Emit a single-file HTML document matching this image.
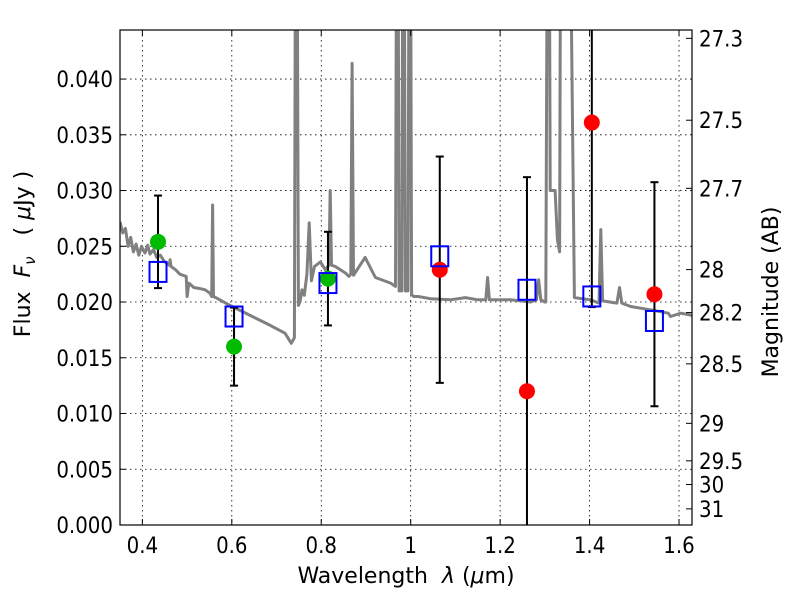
<!DOCTYPE html>
<html><head><meta charset="utf-8"><style>
html,body{margin:0;padding:0;background:#fff;}
svg{display:block;font-family:"DejaVu Sans","Liberation Sans",sans-serif;}
.tk{font-stretch:condensed;}
</style></head><body>
<svg id="chart" width="800" height="600" viewBox="0 0 800 600">
<defs><clipPath id="clip"><rect x="120" y="30" width="572" height="495"/></clipPath></defs>
<rect x="0" y="0" width="800" height="600" fill="#fff"/>
<g id="grid"></g>
<g id="plot" clip-path="url(#clip)"></g>
<rect x="120" y="30" width="572" height="495" fill="none" stroke="#000" stroke-width="1.2"/>
<g id="axes"></g>
<text x="406" y="583" font-size="22" text-anchor="middle" xml:space="preserve">Wavelength  <tspan font-style="italic">λ</tspan> (<tspan font-style="italic">μ</tspan>m)</text>
<text transform="translate(30,254) rotate(-90)" font-size="22" text-anchor="middle" xml:space="preserve">Flux  <tspan font-style="italic">F</tspan><tspan font-style="italic" font-size="15" dy="5">ν</tspan><tspan dy="-5">   ( </tspan><tspan font-style="italic">μ</tspan>Jy )</text>
<text transform="translate(778,292) rotate(-90)" font-size="22" text-anchor="middle">Magnitude (AB)</text>
</svg>
<script>
const xTicks=[0.4,0.6,0.8,1.0,1.2,1.4,1.6];
const xTickLabels=["0.4","0.6","0.8","1","1.2","1.4","1.6"];
const yTicks=[0,0.005,0.01,0.015,0.02,0.025,0.03,0.035,0.04];
const yTickLabels=["0.000","0.005","0.010","0.015","0.020","0.025","0.030","0.035","0.040"];
const magTicks=[27.3,27.5,27.7,28,28.2,28.5,29,29.5,30,31];
const magTickLabels=["27.3","27.5","27.7","28","28.2","28.5","29","29.5","30","31"];
const specWave=[0.35,0.356,0.362,0.368,0.374,0.380,0.386,0.392,0.398,0.406,0.412,0.417,0.425,0.432,0.440,0.450,0.460,0.462,0.464,0.474,0.484,0.498,0.500,0.504,0.515,0.529,0.540,0.551,0.555,0.557,0.559,0.564,0.596,0.641,0.686,0.719,0.733,0.740,0.744,0.749,0.753,0.757,0.762,0.768,0.773,0.778,0.785,0.798,0.809,0.817,0.820,0.823,0.831,0.854,0.862,0.866,0.869,0.872,0.898,0.921,0.955,0.966,0.970,0.974,0.980,0.984,0.988,0.994,0.998,1.002,1.006,1.017,1.044,1.089,1.122,1.150,1.168,1.172,1.176,1.223,1.268,1.281,1.286,1.291,1.300,1.302,1.308,1.312,1.323,1.328,1.333,1.337,1.350,1.366,1.402,1.421,1.425,1.429,1.461,1.467,1.472,1.492,1.536,1.576,1.581,1.604,1.63];
const specFlux=[0.0272,0.0262,0.0266,0.0250,0.0258,0.0245,0.0252,0.0242,0.0250,0.0244,0.0251,0.0243,0.0247,0.0240,0.0242,0.0236,0.0233,0.0238,0.0232,0.0229,0.0225,0.0223,0.0205,0.0217,0.0213,0.0212,0.0211,0.0208,0.0205,0.0287,0.0205,0.0204,0.0197,0.0188,0.0179,0.0172,0.0163,0.0168,0.08,0.0197,0.0201,0.0211,0.0206,0.0225,0.0271,0.0219,0.0232,0.0236,0.0229,0.0233,0.030,0.0233,0.0232,0.0226,0.0223,0.0225,0.0414,0.0224,0.0240,0.0222,0.0217,0.0214,0.08,0.021,0.021,0.08,0.021,0.021,0.08,0.0207,0.0205,0.0205,0.0203,0.0202,0.0204,0.0202,0.0202,0.0222,0.0202,0.0202,0.0200,0.0202,0.0220,0.0202,0.0200,0.0200,0.08,0.030,0.030,0.0256,0.0245,0.08,0.08,0.0204,0.0202,0.0199,0.0265,0.0201,0.0199,0.0213,0.0199,0.0196,0.0193,0.0190,0.0187,0.0190,0.0188];
const photWave=[0.435,0.605,0.815,1.065,1.26,1.405,1.545];
const photFlux=[0.0254,0.016,0.0221,0.0229,0.012,0.0361,0.0207];
const photErr=[0.00415,0.0035,0.0042,0.01015,0.0192,0.01655,0.01005];
const photColor=["#00bb00","#00bb00","#00bb00","#ff0000","#ff0000","#ff0000","#ff0000"];
const modelFlux=[0.0227,0.0187,0.0217,0.0241,0.0211,0.0205,0.0183];

const X0=120,X1=692,Y0=525,Y1=30,XMIN=0.35,XMAX=1.629,YMIN=0,YMAX=0.0444;
const sx=v=>X0+(v-XMIN)/(XMAX-XMIN)*(X1-X0);
const sy=v=>Y0-(v-YMIN)/(YMAX-YMIN)*(Y0-Y1);
const magToFlux=m=>Math.pow(10,(23.9-m)/2.5);
const NS="http://www.w3.org/2000/svg";
function mk(tag,attrs,parent){const e=document.createElementNS(NS,tag);for(const k in attrs)e.setAttribute(k,attrs[k]);parent.appendChild(e);return e;}
const grid=document.getElementById('grid'),plot=document.getElementById('plot'),axes=document.getElementById('axes');

xTicks.forEach((t,i)=>{
  const x=sx(t);
  const g=mk('line',{x1:x,x2:x,y1:Y1,y2:Y0,stroke:'#000','stroke-width':0.8,'stroke-dasharray':'1.5,3.5'},grid);
  
  
  const a=mk('line',{x1:x,x2:x,y1:Y0,y2:Y0-6,stroke:'#000'},axes);
  
  
  const b=mk('line',{x1:x,x2:x,y1:Y1,y2:Y1+6,stroke:'#000'},axes);
  
  
  const l=mk('text',{x:x,y:553,'font-size':22,'text-anchor':'middle',class:'tk'},axes);l.textContent=xTickLabels[i];
  
  
});
yTicks.forEach((t,i)=>{
  const y=sy(t);
  if(t>0){const g=mk('line',{x1:X0,x2:X1,y1:y,y2:y,stroke:'#000','stroke-width':0.8,'stroke-dasharray':'1.5,3.5'},grid);
  
  }
  const a=mk('line',{x1:X0,x2:X0+6,y1:y,y2:y,stroke:'#000'},axes);
  
  
  const l=mk('text',{x:113,y:y+8,'font-size':22,'text-anchor':'end',class:'tk'},axes);l.textContent=yTickLabels[i];
  
  
});
magTicks.forEach((m,i)=>{
  const y=sy(magToFlux(m));
  const a=mk('line',{x1:X1,x2:X1-6,y1:y,y2:y,stroke:'#000'},axes);
  
  
  const l=mk('text',{x:699,y:y+8,'font-size':22,class:'tk'},axes);l.textContent=magTickLabels[i];
  
  
});
const pts=specWave.map((w,i)=>sx(w).toFixed(1)+','+sy(specFlux[i]).toFixed(1)).join(' ');
const sp=mk('polyline',{points:pts,fill:'none',stroke:'#808080','stroke-width':3,'stroke-linejoin':'round'},plot);


photWave.forEach((w,i)=>{
  const x=sx(w),lo=sy(photFlux[i]-photErr[i]),hi=sy(photFlux[i]+photErr[i]);
  const e=mk('line',{x1:x,x2:x,y1:lo,y2:hi,stroke:'#000','stroke-width':2},plot);
  
  
  [lo,hi].forEach(y=>{const c=mk('line',{x1:x-4,x2:x+4,y1:y,y2:y,stroke:'#000','stroke-width':2},plot);
  
  });
});
photWave.forEach((w,i)=>{
  const c=mk('circle',{cx:sx(w),cy:sy(photFlux[i]),r:8,fill:photColor[i]},plot);
  
  
});
photWave.forEach((w,i)=>{
  const r=mk('rect',{x:sx(w)-8.5,y:sy(modelFlux[i])-10,width:17,height:20,fill:'none',stroke:'#0000ff','stroke-width':2},plot);
  
  
});
</script>
</body></html>
